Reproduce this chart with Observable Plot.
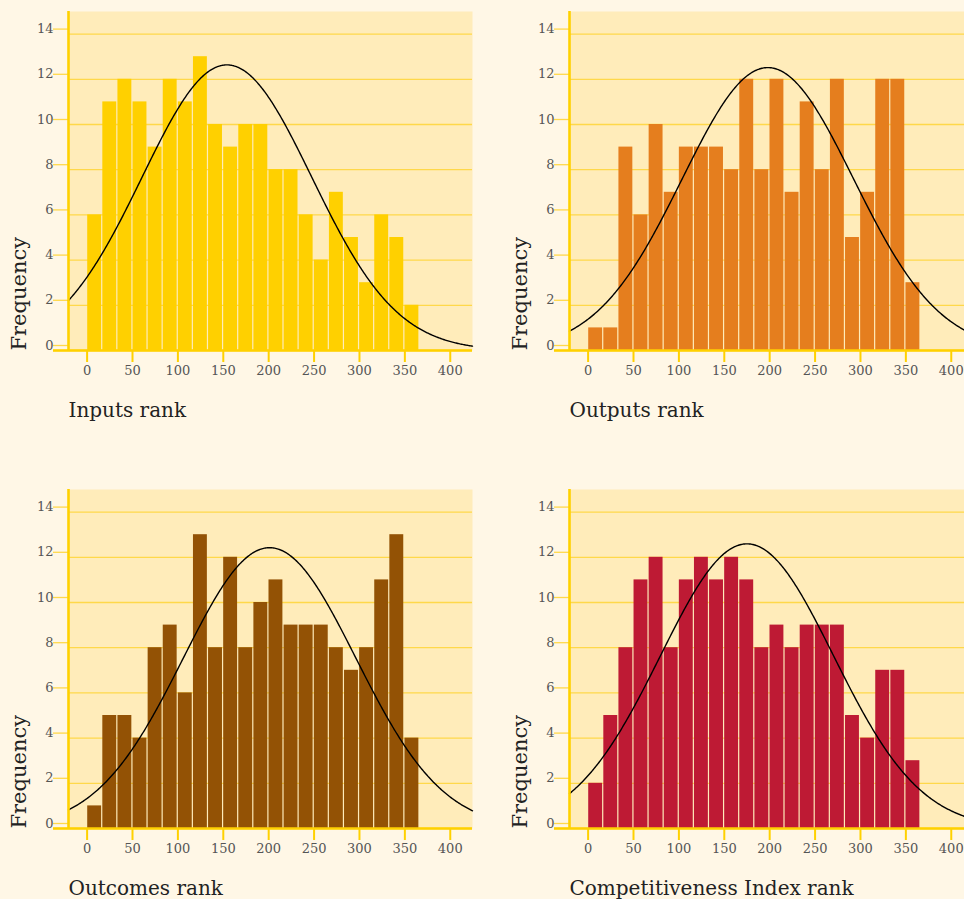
<!DOCTYPE html>
<html>
<head>
<meta charset="utf-8">
<script src="https://cdn.jsdelivr.net/npm/d3@7"></script>
<script src="https://cdn.jsdelivr.net/npm/@observablehq/plot@0.6"></script>
<style>
  html, body { margin: 0; padding: 0; background: #FFF7E6; overflow: hidden; }
  #grid { display: grid; grid-template-columns: 501px 501px; width: 1002px; }
  #grid svg { display: block; }
</style>
</head>
<body>
<div id="grid"></div>
<script>
// Rank distributions: counts per bin of width binWidth, starting at rank 0
const panelTitles = ["Inputs rank", "Outputs rank", "Outcomes rank", "Competitiveness Index rank"];
const inputsCounts = [6, 11, 12, 11, 9, 12, 11, 13, 10, 9, 10, 10, 8, 8, 6, 4, 7, 5, 3, 6, 5, 2];
const outputsCounts = [1, 1, 9, 6, 10, 7, 9, 9, 9, 8, 12, 8, 12, 7, 11, 8, 12, 5, 7, 12, 12, 3];
const outcomesCounts = [1, 5, 5, 4, 8, 9, 6, 13, 8, 12, 8, 10, 11, 9, 9, 9, 8, 7, 8, 11, 13, 4];
const competitivenessCounts = [2, 5, 8, 11, 12, 8, 11, 12, 11, 12, 11, 8, 9, 8, 9, 9, 9, 5, 4, 7, 7, 3];
const binWidth = 16.64;

// Fitted normal curve parameters for each panel
const fitMean = [154, 198, 201, 175];
const fitSd = [93.5, 94.4, 95.1, 95.4];

const barColors = ["#FFD000", "#E57E1E", "#935205", "#BE1A34"];
const xTicks = [0, 50, 100, 150, 200, 250, 300, 350, 400];
const yTicks = [0, 2, 4, 6, 8, 10, 12, 14];
const xDomain = [-20.5, 424.5];
const yDomain = [0, 15];

const allCounts = [inputsCounts, outputsCounts, outcomesCounts, competitivenessCounts];

const gold = "#FFD100";
const gridGold = "#FFD84A";
const plotBg = "#FFECBA";
const tickText = "#555555";
const font = "DejaVu Serif";

function panel(i) {
  const counts = allCounts[i];
  const bins = counts.map((c, k) => ({x1: k * binWidth, x2: (k + 1) * binWidth, count: c}));
  const total = d3.sum(counts);
  const mu = fitMean[i], sd = fitSd[i];
  const scale = total * binWidth / (sd * Math.sqrt(2 * Math.PI));
  const curve = d3.range(xDomain[0], xDomain[1] + 0.01, 1).map(x => ({
    x, y: scale * Math.exp(-0.5 * ((x - mu) / sd) ** 2)
  }));

  return Plot.plot({
    width: 501,
    height: 478,
    marginLeft: 68,
    marginRight: 29,
    marginTop: 11,
    marginBottom: 128,
    style: {background: "transparent", fontFamily: font, overflow: "visible"},
    x: {domain: xDomain, label: null},
    y: {domain: yDomain, label: null},
    marks: [
      Plot.frame({fill: plotBg, stroke: null}),
      Plot.gridY(yTicks, {stroke: gridGold, strokeOpacity: 1, strokeWidth: 1.3}),
      Plot.axisY(yTicks, {
        tickSize: 15, tickPadding: 0, stroke: gridGold, strokeWidth: 1.3,
        fill: tickText, fontSize: 13, dy: -5, label: null
      }),
      Plot.rectY(bins, {x1: "x1", x2: "x2", y: "count", fill: barColors[i], insetLeft: 0.6, insetRight: 0.6}),
      Plot.line(curve, {x: "x", y: "y", stroke: "#000", strokeWidth: 1.4}),
      Plot.ruleY([0], {stroke: gold, strokeWidth: 2.6}),
      Plot.axisY([0], {tickSize: 15, stroke: gold, strokeWidth: 2.6, tickFormat: () => "", label: null}),
      Plot.ruleX([xDomain[0]], {stroke: gold, strokeWidth: 2.6}),
      Plot.axisX(xTicks, {
        tickSize: 12, tickPadding: 3, stroke: gold, strokeWidth: 2,
        fill: tickText, fontSize: 13, label: null
      }),
      Plot.text([panelTitles[i]], {
        frameAnchor: "bottom-left", dy: 66, lineAnchor: "bottom", textAnchor: "start",
        fontSize: 20, fill: "#222"
      }),
      Plot.text(["Frequency"], {
        frameAnchor: "bottom-left", rotate: -90, dx: -43, lineAnchor: "bottom",
        textAnchor: "start", fontSize: 21, fill: "#222"
      })
    ]
  });
}

const grid = document.getElementById("grid");
for (let i = 0; i < 4; i++) grid.appendChild(panel(i));
</script>
</body>
</html>
